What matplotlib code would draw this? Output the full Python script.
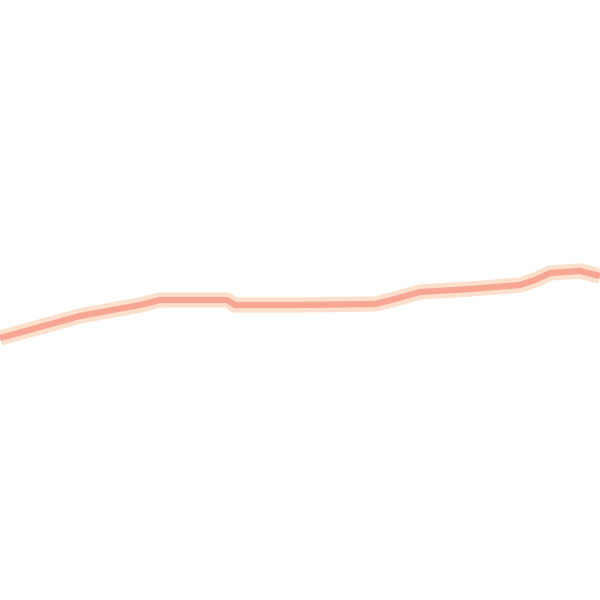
import matplotlib
matplotlib.use("Agg")
import matplotlib.pyplot as plt

# values (x across, y up)
x_vals = [0, 40, 80, 107, 140, 160, 200, 227, 235, 300, 375, 395, 420, 470, 520, 535, 550, 580, 600]
y_vals = [262, 273, 284, 289, 295, 300, 300, 300, 295, 295, 296, 301, 308, 311, 315, 320, 327, 329, 324]

fig = plt.figure(figsize=(6, 6), dpi=100)
ax = fig.add_axes([0, 0, 1, 1])

# pale halo then the salmon core
ax.plot(x_vals, y_vals, color='#fde0cc', linewidth=11, solid_capstyle='butt', solid_joinstyle='round')
ax.plot(x_vals, y_vals, color='#f7a693', linewidth=4.5, solid_capstyle='butt', solid_joinstyle='round')

ax.set_xlim(0, 600)
ax.set_ylim(0, 600)
ax.axis('off')

fig.savefig('out.png', dpi=100, facecolor='white')
